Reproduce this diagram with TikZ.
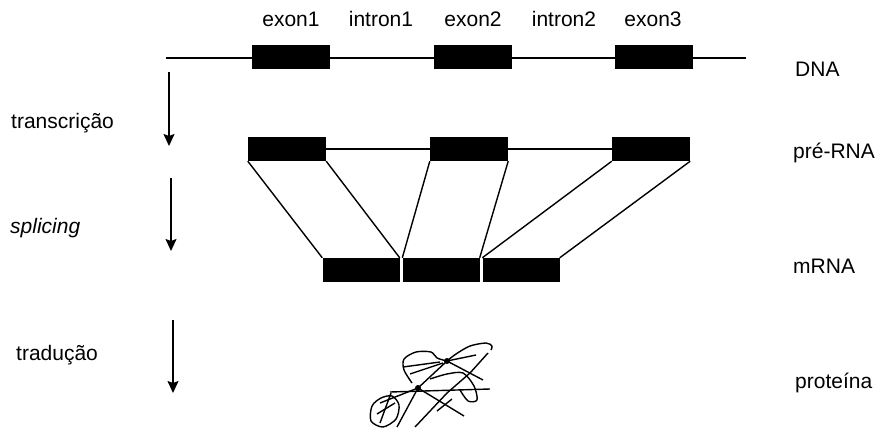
\documentclass[tikz,border=0pt]{standalone}
\usepackage{fontspec}
\setmainfont{Liberation Sans}
\usetikzlibrary{arrows.meta}

\begin{document}
\begin{tikzpicture}[x=1pt,y=-1pt,
  exonbox/.style={fill=black,minimum width=78pt,minimum height=24pt,inner sep=0pt},
  strand/.style={line width=1.6pt},
  link/.style={line width=1.4pt},
  stage/.style={line width=1.6pt,-{Stealth[length=12pt,width=11pt,inset=2pt]}},
  lbl/.style={font=\fontsize{21}{25}\selectfont,inner sep=0pt},
  coil/.style={line width=1.4pt,line join=round},
]
\useasboundingbox (0,0) rectangle (880,428);

% === Gene on the DNA ===
\coordinate (dnaL) at (166,58);
\coordinate (dnaR) at (746,58);
\draw[strand] (dnaL) -- (dnaR);
\node[exonbox] (dex1) at (291,57) {};
\node[exonbox] (dex2) at (473,57) {};
\node[exonbox] (dex3) at (654,57) {};

\node[lbl,anchor=base] at (291,27) {exon1};
\node[lbl,anchor=base] at (381,27) {intron1};
\node[lbl,anchor=base] at (473,27) {exon2};
\node[lbl,anchor=base] at (564,27) {intron2};
\node[lbl,anchor=base] at (653,27) {exon3};

% === Primary transcript ===
\node[exonbox] (pex1) at (287,149) {};
\node[exonbox] (pex2) at (469,149) {};
\node[exonbox] (pex3) at (651,149) {};
\draw[strand] (pex1.east) -- (pex2.west);
\draw[strand] (pex2.east) -- (pex3.west);

% === Mature mRNA ===
\node[exonbox,minimum width=77pt] (mex1) at (361,270) {};
\node[exonbox,minimum width=77pt] (mex2) at (441,270) {};
\node[exonbox,minimum width=77pt] (mex3) at (521,270) {};

% === Exons joined after splicing ===
\foreach \i in {1,2,3} {
  \draw[link] (pex\i.south west) -- (mex\i.north west);
  \draw[link] (pex\i.south east) -- (mex\i.north east);
}

% === Stage arrows ===
\coordinate (a1) at (169,72);  \coordinate (b1) at (169,146);
\coordinate (a2) at (171,178); \coordinate (b2) at (171,251);
\coordinate (a3) at (173,320); \coordinate (b3) at (173,393);
\draw[stage] (a1) -- (b1);
\draw[stage] (a2) -- (b2);
\draw[stage] (a3) -- (b3);

\node[lbl,anchor=base west] at (11,128) {transcrição};
\node[lbl,anchor=base west] at (10,233) {\itshape splicing};
\node[lbl,anchor=base west] at (16,360) {tradução};

% === Names of the molecules ===
\node[lbl,anchor=base west] at (795,77) {DNA};
\node[lbl,anchor=base west] at (793,158) {pré-RNA};
\node[lbl,anchor=base west] at (793,273) {mRNA};
\node[lbl,anchor=base west] at (795,388) {proteína};

% === Folded protein ===
% upper left fold with its inner strands
\draw[coil] plot[smooth] coordinates {(412,383) (404,370) (404,359) (416,352) (431,352) (437,358) (447,361)};
\draw[coil] (403,367) -- (440,362);
\draw[coil] (410,374) -- (443,363);
% upper right fold
\draw[coil] plot[smooth] coordinates {(447,361) (456,354) (470,346) (486,343) (492,346) (491,350)};
\draw[coil] (447,361) -- (476,355);
% long strands across the middle
\draw[coil] (415,427) -- (447,393) -- (470,373) -- (488,353);
\draw[coil] (397,427) -- (418,388) -- (447,361);
\draw[coil] (390,392) -- (490,389);
\draw[coil] (418,388) -- (464,416);
\draw[coil] (447,361) -- (483,380);
\draw[coil] (437,411) -- (452,399);
% middle fold
\draw[coil] plot[smooth] coordinates {(430,379) (447,374) (463,373) (474,386) (477,400) (468,401) (460,390)};
% lower left fold
\draw[coil] plot[smooth cycle] coordinates {(372,406) (381,398) (392,396) (399,405) (396,419) (383,427) (371,421)};
\draw[coil] (380,403) -- (418,388);
\draw[coil] (380,423) -- (391,393);
\draw[coil] (377,414) -- (395,403);
\fill (418,388) circle (3pt);
\fill (447,361) circle (3pt);
\end{tikzpicture}
\end{document}
